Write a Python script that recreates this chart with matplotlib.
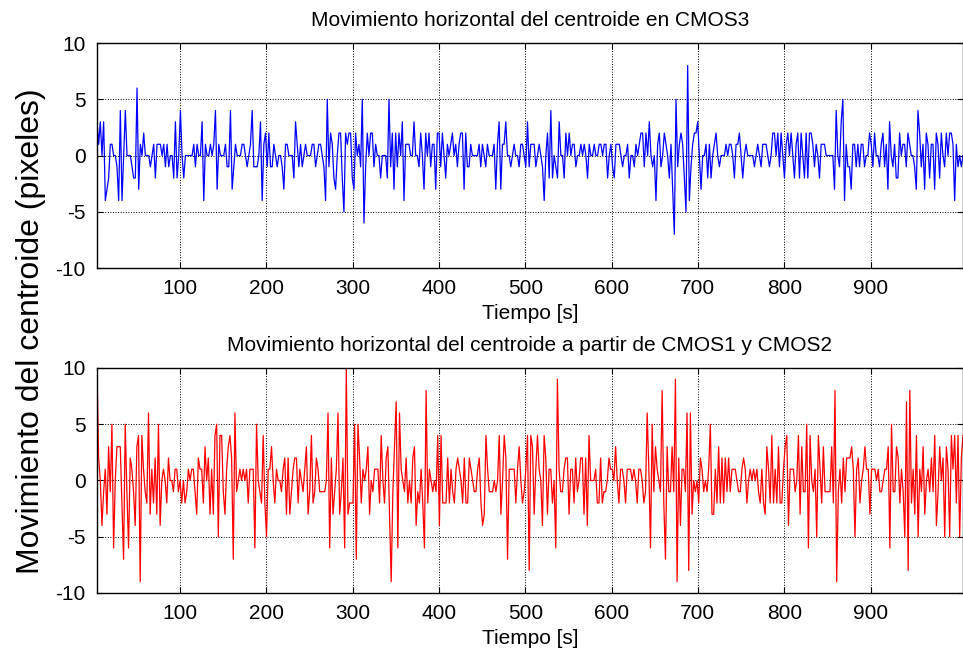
import numpy as np
import matplotlib
matplotlib.use('Agg')
import matplotlib.pyplot as plt

# Datos (pixeles), por tramos de ~170 s
cmos3_p1 = [3, 1, 3, 0, 3, -4, -3, -2, 1, 1, 0, 0, -1, -4, 4, -4, 0, 4, 0, 0, 0, -1, -2, -2, 6, -3, 1, 0, 2, 0,
            0, 0, -1, 0, 1, -2, 1, 1, 1, 0, 1, -1, 1, -1, 0, 0, -2, 3, -2, 0, 4, 0, -2, 0, 0, 0, 0, 0, 1, -1,
            1, 0, 0, 3, -4, 1, 0, 0, 1, 0, 1, 4, -3, 1, 0, 0, 0, 1, -1, -1, 4, -3, -1, 1, 0, 0, 0, 1]
cmos3_p2 = [1, 0, -1, 0, 1, 4, -1, -1, -1, 0, 3, -4, 1, 2, -1, 2, -1, -1, 1, 0, -1, 0, 0, -1, -3, 1, 1, 0, 0, 0,
            -2, 3, 1, -1, 1, -1, 0, 1, 0, 0, 0, 1, 1, -1, 0, 1, 1, 0, -1, -4, 5, -1, 2, 1, -2, -3, 0, 2, 2, -2,
            -5, 2, 1, 2, 2, -2, -3, 2, 0, 1, -1, 5, -6, -1, 2, 0, 2, 2, -1, 1, 0, 0, -2, 0, 0, 0, -2]
cmos3_p3 = [5, -1, 2, -3, 2, -1, 2, 0, 3, -4, 1, 1, 1, 0, 0, 3, 0, 0, -1, 2, 0, -3, 2, 0, 2, -1, 1, 1, -3, 2,
            2, -1, 2, 0, -2, 1, 0, 1, 2, 0, 1, -1, 1, 2, 2, -3, 2, -1, -1, 1, 0, 0, 0, 0, 1, -1, 1, 0, -1, 1,
            0, 0, 0, 1, -3, 1, 3, -3, 1, 1, 3, 0, 0, -1, 0, 1, 0, 0, -1, 1, 1, 0, -1, 3, -1, 1, 1]
cmos3_p4 = [1, -1, 0, 1, 0, -1, -4, 0, 2, -2, 4, -2, 0, -1, -2, 3, 0, 0, -2, 2, 0, 2, 0, 1, 1, -1, 0, 0, 1, 0,
            1, 0, -2, 1, 0, 0, 1, 0, 0, 1, 1, 0, 1, 1, -2, 0, 1, -1, -2, 1, 1, 1, 0, -1, 0, 0, 1, -2, 0, 0,
            -1, 1, 0, 1, 2, 2, -1, 2, 0, 3, 0, -1, 0, -4, 1, 2, -1, 0, 2, 1, 0, -2, 1, -3, -7, 5]
cmos3_p5 = [-1, 1, 2, 1, -2, -5, 8, -4, -1, 1, 2, 2, 3, 0, -3, 0, 0, 1, -2, 1, -2, 0, 1, 2, 0, -1, 0, 0, 0, 1,
            0, 1, 1, 0, -2, 1, 1, 2, 0, -2, 0, 1, 0, 0, 0, 0, -1, 0, 1, 0, -1, 1, 1, 1, 0, -1, 0, 2, 2, 0,
            2, -1, 2, 0, -2, 1, 2, 0, 2, 0, -2, 1, 2, -2, 2, 0, -2, 2, -2, 2, 2, 1, -1, 1, 0, -2, 1, 1]
cmos3_p6 = [1, 0, 0, 0, 0, 0, -3, 4, 0, -1, 3, 5, -4, 1, -1, -1, -3, 1, 1, -1, 1, -1, 1, 1, -1, 0, 0, 2, 1, -1,
            2, 0, 0, -1, 1, 2, -1, 1, -3, 3, 0, -1, 1, -2, -2, 2, 0, 1, 1, -1, 2, 1, 0, 0, -1, -3, 4, 2, -1, 1,
            -3, 2, 1, -2, 1, 1, -3, 2, 1, -2, 2, 0, -1, 2, 0, 2, 2, 1, -4, 1, -1, 0, -1, 0]

cmos12_p1 = [10, 2, 0, -4, -1, 1, -3, 3, -1, 5, -6, 0, 3, 3, 3, -2, -7, 5, -1, -6, 2, 1, -1, -4, 3, 4, -9, 4, 1, -1,
             -2, 6, -3, 1, -2, 2, -3, 5, -4, 0, 1, 0, -2, 2, 0, 0, -1, 1, 1, -1, 0, -2, 0, -2, -1, 1, 0, 1, 1, -1,
             -3, 2, 1, 1, -2, 3, 0, 2, -3, 1, -3, 4, 5, -5, 4, 4, -1, -3, 1, 3, 4, 2, -7, 6, -1, 0, 1, 0, 1, 0]
cmos12_p2 = [1, -2, 1, 1, 1, -6, 5, 0, -1, -2, 4, -2, -5, 1, 1, 3, 0, -2, 1, 0, 0, -1, 1, 2, -3, 2, -3, -1, 1, 2,
             2, -2, 1, 0, -1, 1, 3, -3, -1, 4, -2, -1, 2, 1, -1, -1, -1, -1, 0, 6, -6, 2, -3, -1, 1, 6, -3, -1, 2, -6,
             10, -3, -2, -2, -2, 5, -7, 5, 2, -2, 1, 0, 1, 3, -3, 0, -1, 1, 1, 1, -2, 4, 0, -2, 2, 3, -3]
cmos12_p3 = [-9, -1, 3, 7, -6, 6, 1, 0, -1, 2, -2, 0, -2, 2, 3, -4, -1, -2, 1, -2, -6, 8, -2, 1, 0, -1, 0, -1, 4, -4,
             4, -2, -2, -2, 2, -2, 1, -1, -2, 1, 2, 1, 0, -2, 2, -2, -2, 2, 1, 0, -1, -1, 1, 2, -2, -4, -3, 4, 1, -1,
             -1, -1, 0, -1, 0, 4, -3, 0, 4, 2, -7, 1, 1, 1, 1, -2, 1, 3, 0, -2, -1, 1, 4, -8, 4, 3, -3]
cmos12_p4 = [1, 4, 1, 0, -4, 4, 2, -3, 1, 1, -2, 0, -6, 9, 1, -1, -1, 1, 2, 2, -3, 1, 1, -2, 2, -1, 0, 2, 2, -3,
             2, -4, 4, 0, 0, 0, 1, -2, -2, 2, -2, -1, -1, 0, 2, 1, 1, 0, 3, 0, -2, 1, 1, 0, -2, 1, 1, 1, 0, 1,
             0, -2, 1, 1, 0, -2, -1, 6, 1, -6, 5, -1, 3, 1, 0, -1, 8, -2, -7, 3, -1, -1, 3, -1, 9, -9]
cmos12_p5 = [2, -4, 1, 1, -1, 6, -8, 6, -3, 0, -1, 0, -2, 2, 1, -1, 0, -1, 1, 5, -3, -3, 1, -2, 3, -2, 2, -2, 2, -1,
             2, -1, 1, 1, 1, 0, -1, -1, 1, 2, 1, -2, 0, 1, 0, 1, 0, 1, -1, -2, 1, -2, -3, 3, 1, -2, 4, -2, 1, -2,
             3, -2, -2, 1, 3, 4, -4, 1, 1, 1, -1, 0, 4, -3, 3, -1, -1, 5, -6, 4, 0, -1, 1, -5, 4, 1, -2, 3]
cmos12_p6 = [-1, -1, -1, -1, 3, -2, 8, -9, -1, 1, -2, 2, -1, 2, 2, 2, 3, 1, -5, 1, 2, -2, 0, 1, 3, 1, 1, -3, 1, 1,
             1, 0, 1, -1, -1, 0, 1, 1, 3, -6, 5, -1, -1, 3, 2, -2, 1, -1, -5, 7, -8, 8, -2, 1, -3, 4, -5, 1, -1, 3,
             -3, 0, 1, -1, 2, -1, 4, -4, -1, 3, 0, 2, -5, 3, 1, -5, 4, 1, 4, -2, 4, -5, 2, 4]

T_START, T_END = 4, 1007
xticks = [100, 200, 300, 400, 500, 600, 700, 800, 900]
yticks = [-10, -5, 0, 5, 10]

cmos3 = np.array(cmos3_p1 + cmos3_p2 + cmos3_p3 + cmos3_p4 + cmos3_p5 + cmos3_p6)
cmos12 = np.array(cmos12_p1 + cmos12_p2 + cmos12_p3 + cmos12_p4 + cmos12_p5 + cmos12_p6)

plt.rcParams['font.family'] = ['Liberation Sans', 'DejaVu Sans']
plt.rcParams['axes.unicode_minus'] = False

fig = plt.figure(figsize=(9.63, 6.55), dpi=100)
ax1 = fig.add_axes([0.1007, 0.5908, 0.8993, 0.3435])
ax2 = fig.add_axes([0.1007, 0.0947, 0.8993, 0.3435])

paneles = [
    (ax1, cmos3, 'blue', 'Movimiento horizontal del centroide en CMOS3'),
    (ax2, cmos12, 'red', 'Movimiento horizontal del centroide a partir de CMOS1 y CMOS2'),
]

for ax, y, color, titulo in paneles:
    t = np.linspace(T_START, T_END, len(y))
    ax.plot(t, y, color=color, linewidth=0.9)
    ax.set_xlim(T_START, T_END)
    ax.set_ylim(-10, 10)
    ax.set_xticks(xticks)
    ax.set_yticks(yticks)
    ax.grid(True, linestyle=':', color='black', linewidth=0.7)
    ax.tick_params(direction='in', top=True, right=True, length=4, labelsize=15, pad=8)
    for s in ax.spines.values():
        s.set_linewidth(1.0)
    ax.set_title(titulo, fontsize=15, pad=12)
    ax.set_xlabel('Tiempo [s]', fontsize=15, labelpad=4)

fig.text(0.032, 0.495, 'Movimiento del centroide (pixeles)', rotation=90,
         ha='center', va='center', fontsize=23)

fig.savefig('out.png', dpi=100)
